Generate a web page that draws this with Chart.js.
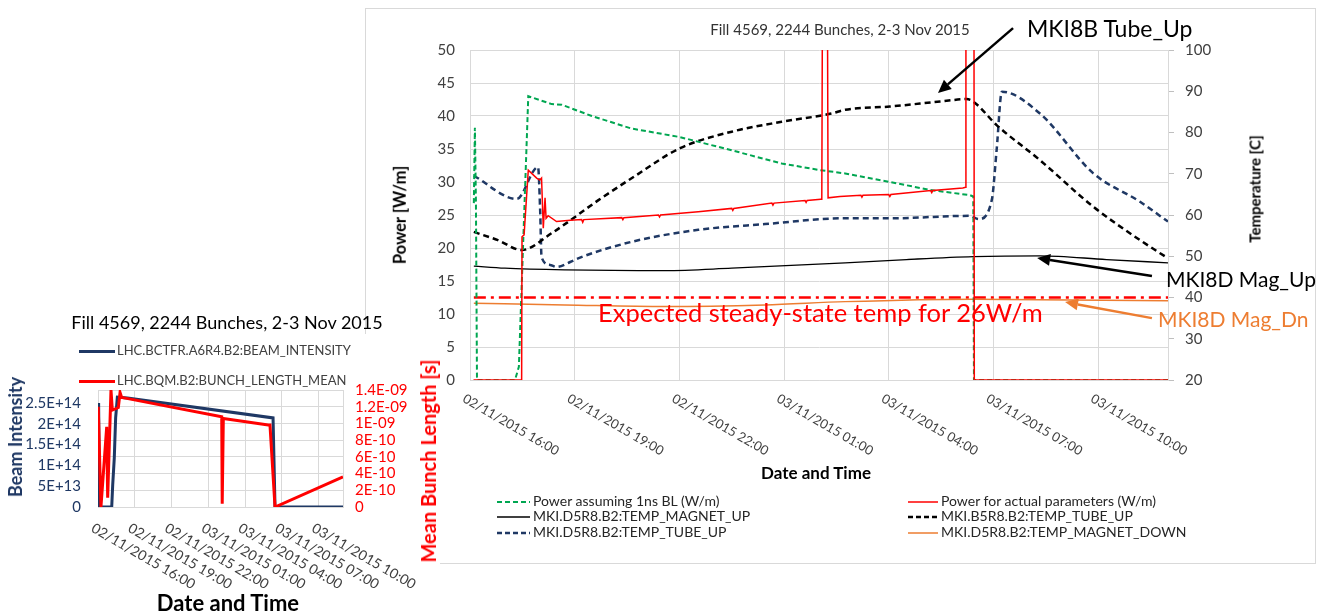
<!DOCTYPE html>
<html>
<head>
<meta charset="utf-8">
<title>Fill 4569, 2244 Bunches, 2-3 Nov 2015</title>
<script src="https://cdn.jsdelivr.net/npm/chart.js@4.4.1/dist/chart.umd.min.js"></script>
<style>
  html, body { margin: 0; padding: 0; background: #fff; }
  body { position: relative; width: 1319px; height: 615px; overflow: hidden; font-family: Lato, "Open Sans", sans-serif; color: #000; }
  #bigBox { position: absolute; left: 365px; top: 8px; width: 949px; height: 554px; border: 1px solid #d9d9d9; z-index: 1; }
  #bigChart { position: absolute; left: 0; top: 0; }
  #smallBg { position: absolute; left: 0; top: 334px; width: 440px; height: 281px; background: #fff; z-index: 2; }
  #smallChart { position: absolute; left: 0; top: 300px; z-index: 3; }
  .t, .tl, .rot, .leg { position: absolute; white-space: nowrap; line-height: 1; z-index: 4; }
  .t { transform: translate(-50%, -50%); }
  .tl { transform: translateY(-50%); }
  .rot { transform: translate(-50%, -50%) rotate(-90deg); font-weight: bold; }
  .leg { transform: translateY(-50%); font-size: 14px; color: #262626; }
  .leg svg { vertical-align: middle; margin-right: 3px; }
  .sleg { position: absolute; white-space: nowrap; line-height: 1; z-index: 4; transform: translateY(-50%); font-size: 13px; color: #404040; }
  .sleg svg { vertical-align: middle; margin-right: 2px; }
</style>
</head>
<body>
<div id="bigBox"><canvas id="bigChart" width="949" height="554"></canvas></div>
<div id="smallBg"></div>
<canvas id="smallChart" width="440" height="315"></canvas>

<!-- big chart texts -->
<div class="t" style="left:840px; top:29px; font-size:15px; color:#333;">Fill 4569, 2244 Bunches, 2-3 Nov 2015</div>
<div class="rot" style="left:400px; top:215px; font-size:16.5px;">Power [W/m]</div>
<div class="rot" style="left:1255px; top:189px; font-size:15px;">Temperature [C]</div>
<div class="t" style="left:816px; top:472px; font-size:17px; font-weight:bold;">Date and Time</div>
<div class="tl" style="left:1027px; top:28px; font-size:23px;">MKI8B Tube_Up</div>
<div class="tl" style="left:1166px; top:278px; font-size:21px;">MKI8D Mag_Up</div>
<div class="tl" style="left:1158px; top:318px; font-size:21px; color:#ed7d31;">MKI8D Mag_Dn</div>
<div class="tl" style="left:598px; top:313px; font-size:25.5px; color:#ff0000;">Expected steady-state temp for 26W/m</div>

<div class="leg" style="left:497px; top:501px;"><svg width="33" height="6"><line x1="0" y1="3" x2="33" y2="3" stroke="#00a651" stroke-width="2" stroke-dasharray="5,3"/></svg>Power assuming 1ns BL (W/m)</div>
<div class="leg" style="left:497px; top:516px;"><svg width="33" height="6"><line x1="0" y1="3" x2="33" y2="3" stroke="#000" stroke-width="1.5"/></svg>MKI.D5R8.B2:TEMP_MAGNET_UP</div>
<div class="leg" style="left:497px; top:532px;"><svg width="33" height="6"><line x1="0" y1="3" x2="33" y2="3" stroke="#1f3864" stroke-width="2.5" stroke-dasharray="5,3"/></svg>MKI.D5R8.B2:TEMP_TUBE_UP</div>
<div class="leg" style="left:908px; top:501px;"><svg width="30" height="6"><line x1="0" y1="3" x2="30" y2="3" stroke="#ff0000" stroke-width="1.5"/></svg>Power for actual parameters (W/m)</div>
<div class="leg" style="left:908px; top:516px;"><svg width="30" height="6"><line x1="0" y1="3" x2="30" y2="3" stroke="#000" stroke-width="2.5" stroke-dasharray="5,3"/></svg>MKI.B5R8.B2:TEMP_TUBE_UP</div>
<div class="leg" style="left:908px; top:532px;"><svg width="30" height="6"><line x1="0" y1="3" x2="30" y2="3" stroke="#ed7d31" stroke-width="1.5"/></svg>MKI.D5R8.B2:TEMP_MAGNET_DOWN</div>

<!-- small chart texts -->
<div class="t" style="left:227px; top:322px; font-size:18px;">Fill 4569, 2244 Bunches, 2-3 Nov 2015</div>
<div class="sleg" style="left:79px; top:350px;"><svg width="36" height="6"><line x1="0" y1="3" x2="36" y2="3" stroke="#1f3864" stroke-width="3"/></svg>LHC.BCTFR.A6R4.B2:BEAM_INTENSITY</div>
<div class="sleg" style="left:79px; top:380px;"><svg width="36" height="6"><line x1="0" y1="3" x2="36" y2="3" stroke="#ff0000" stroke-width="3"/></svg>LHC.BQM.B2:BUNCH_LENGTH_MEAN</div>
<div class="rot" style="left:15px; top:437px; font-size:18px; color:#1f3864;">Beam Intensity</div>
<div class="rot" style="left:428px; top:461px; font-size:20px; color:#ff0000;">Mean Bunch Length [s]</div>
<div class="t" style="left:228px; top:603px; font-size:22px; font-weight:bold;">Date and Time</div>

<script>
// x values are hours counted from 02/11/2015 00:00
var xTickHours = [16, 19, 22, 25, 28, 31, 34];
var xTickLabels = ["02/11/2015 16:00", "02/11/2015 19:00", "02/11/2015 22:00", "03/11/2015 01:00",
                   "03/11/2015 04:00", "03/11/2015 07:00", "03/11/2015 10:00"];

// big chart, power axis (W/m)
var greenHours = [16.11, 16.14, 16.17, 16.2, 17.29, 17.4, 17.67, 18.34, 18.63, 19.49, 20.63, 22.02, 23.5, 24.93, 26.03, 26.75, 28.03, 29.18, 30.33, 30.42, 30.44, 36];
var greenPower = [26.8, 38.2, 27.0, 0, 0, 2, 43.0, 41.8, 41.7, 40.0, 38.1, 36.8, 34.8, 32.8, 31.8, 31.3, 30.0, 28.8, 28.0, 27.8, 0, 0];

var redHours = [16.1, 17.48, 17.49, 17.55, 17.67, 17.91, 18.0, 18.05, 18.1, 18.15, 18.18, 18.24, 18.48, 18.87,
                19.2, 19.23, 19.26, 20.35, 20.38, 20.41, 21.4, 21.43, 21.46, 22.54, 23.5, 23.53, 23.56,
                24.65, 24.68, 24.71, 25.6, 25.63, 25.66, 26.05, 26.08, 26.1, 26.24, 26.26, 26.6,
                27.2, 27.23, 27.26, 28.0, 28.03, 28.06, 29.2, 29.23, 29.26, 30.12, 30.2, 30.21, 30.44, 30.45, 36];
var redPower = [0, 0, 21.7, 22, 31.8, 30.6, 30.3, 30.6, 23, 27.6, 24.5, 24.9, 24.0, 24.2,
                24.3, 23.9, 24.3, 24.6, 24.3, 24.6, 25.0, 24.7, 25.0, 25.5, 26.0, 25.7, 26.0,
                26.8, 26.5, 26.8, 27.2, 26.9, 27.2, 27.4, 27.4, 60, 60, 27.6, 27.8,
                28.0, 27.7, 28.0, 28.1, 27.8, 28.1, 28.7, 28.4, 28.7, 29.1, 29.2, 60, 60, 0, 0];

// big chart, temperature axis (C)
var tubeB5Hours = [16.11, 16.8, 17.48, 18.34, 19.68, 20.63, 22.02, 23.5, 24.93, 26.36, 26.75, 28.03, 29.47, 30.23, 30.42, 31.09, 32.33, 33.86, 35.2, 36];
var tubeB5Temp  = [55.9, 53.9, 51.5, 55.6, 63.6, 68.9, 76.2, 80.2, 82.6, 84.6, 85.5, 86.3, 87.5, 88.1, 87.5, 81.8, 73.3, 62.0, 53.9, 49.5];

var tubeD5Hours = [16.11, 17.34, 17.95, 18.01, 18.05, 18.29, 18.48, 18.87, 19.1, 20.63, 22.54, 24.45, 26.75, 28.03, 30.33, 30.57, 30.95, 31.09, 31.24, 32.33, 33.86, 35.2, 36];
var tubeD5Temp  = [69.5, 63.9, 71.6, 61.2, 49.8, 47.9, 47.4, 48.6, 49.5, 53.5, 56.4, 57.8, 59.2, 59.2, 59.8, 59.0, 63.6, 75.8, 89.9, 84.6, 70.1, 63.2, 58.4];

var magUpHours = [16.11, 17.0, 18.72, 21.59, 23.5, 26.75, 28.51, 30.42, 32.33, 34.24, 36];
var magUpTemp  = [47.6, 47.1, 46.7, 46.5, 47.1, 48.4, 49.2, 49.9, 50.1, 49.2, 48.4];

var magDnHours = [16.11, 18.72, 21.59, 24.45, 26.75, 30.42, 36];
var magDnTemp  = [38.6, 38.2, 37.8, 38.2, 39.0, 39.6, 39.2];

var expectedHours = [16.11, 36];
var expectedTemp  = [40, 40];

// annotation arrows (hours, temperature): tail -> tip
var arrowTails  = [[31.56, 105.3], [35.54, 45.2], [35.54, 35.0]];
var arrowTips   = [[29.41, 89.6], [32.25, 49.6], [33.05, 38.9]];
var arrowColors = ["#000000", "#000000", "#ed7d31"];

// small chart
var beamHours     = [16.0, 16.05, 16.12, 17.12, 17.2, 17.33, 17.44, 17.58, 18.4, 30.29, 30.45, 36];
var beamIntensity = [2.1e14, 2.5e14, 0, 0, 0.53e14, 1.18e14, 2.14e14, 2.64e14, 2.62e14, 2.14e14, 0, 0];
var bunchHours  = [16.02, 16.24, 16.71, 16.79, 17.06, 17.17, 17.66, 17.8, 17.93, 18.34, 26.1, 26.14, 26.23, 29.9, 30.04, 30.45, 36];
var bunchLength = [1.2e-9, 0, 0.96e-9, 0.11e-9, 1.4e-9, 1.16e-9, 1.19e-9, 1.37e-9, 1.31e-9, 1.3e-9, 1.08e-9, 0.04e-9, 1.06e-9, 0.98e-9, 0.98e-9, 0, 0.36e-9];
var beamTicks = [0, 5e13, 1e14, 1.5e14, 2e14, 2.5e14];
var beamTickLabels = ["0", "5E+13", "1E+14", "1.5E+14", "2E+14", "2.5E+14"];
var bunchTicks = [0, 2e-10, 4e-10, 6e-10, 8e-10, 1e-9, 1.2e-9, 1.4e-9];
var bunchTickLabels = ["0", "2E-10", "4E-10", "6E-10", "8E-10", "1E-09", "1.2E-09", "1.4E-09"];

Chart.defaults.font.family = "Lato, 'Open Sans', sans-serif";

function pts(xs, ys) {
  return xs.map(function(x, i) { return { x: x, y: ys[i] }; });
}

function lineSet(label, xs, ys, axis, color, width, dash, smooth) {
  return {
    label: label, data: pts(xs, ys), yAxisID: axis,
    borderColor: color, borderWidth: width, borderDash: dash || [],
    pointRadius: 0, tension: 0, fill: false,
    cubicInterpolationMode: smooth ? "monotone" : "default"
  };
}

// x tick labels turned clockwise, starting at the tick
function rotatedLabels(size, color, dx, dy) {
  return {
    id: "rotLabels",
    afterDraw: function(chart) {
      var ctx = chart.ctx, xs = chart.scales.x;
      ctx.save();
      ctx.font = size + "px Lato, 'Open Sans', sans-serif";
      ctx.fillStyle = color;
      ctx.textAlign = "left";
      ctx.textBaseline = "top";
      xTickHours.forEach(function(h, i) {
        ctx.save();
        ctx.translate(xs.getPixelForValue(h) + dx, xs.top + dy);
        ctx.rotate(30 * Math.PI / 180);
        ctx.fillText(xTickLabels[i], 0, 0);
        ctx.restore();
      });
      ctx.restore();
    }
  };
}

var arrowPlugin = {
  id: "arrows",
  afterDraw: function(chart) {
    var ctx = chart.ctx, xs = chart.scales.x, ys = chart.scales.yT;
    arrowTips.forEach(function(tip, i) {
      var x0 = xs.getPixelForValue(arrowTails[i][0]), y0 = ys.getPixelForValue(arrowTails[i][1]);
      var x1 = xs.getPixelForValue(tip[0]), y1 = ys.getPixelForValue(tip[1]);
      var a = Math.atan2(y1 - y0, x1 - x0), head = 13;
      ctx.save();
      ctx.strokeStyle = arrowColors[i];
      ctx.fillStyle = arrowColors[i];
      ctx.lineWidth = 2.5;
      ctx.beginPath();
      ctx.moveTo(x0, y0);
      ctx.lineTo(x1 - head * Math.cos(a), y1 - head * Math.sin(a));
      ctx.stroke();
      ctx.beginPath();
      ctx.moveTo(x1, y1);
      ctx.lineTo(x1 - head * Math.cos(a) + 6 * Math.sin(a), y1 - head * Math.sin(a) - 6 * Math.cos(a));
      ctx.lineTo(x1 - head * Math.cos(a) - 6 * Math.sin(a), y1 - head * Math.sin(a) + 6 * Math.cos(a));
      ctx.closePath();
      ctx.fill();
      ctx.restore();
    });
  }
};

function setTicks(list) {
  return function(scale) { scale.ticks = list.map(function(v) { return { value: v }; }); };
}

function renderBigChart() {
  new Chart(document.getElementById("bigChart"), {
    type: "line",
    data: {
      datasets: [
        lineSet("Power for actual parameters (W/m)", redHours, redPower, "yP", "#ff0000", 1.5),
        lineSet("Power assuming 1ns BL (W/m)", greenHours, greenPower, "yP", "#00a651", 2, [5, 3]),
        lineSet("MKI.B5R8.B2:TEMP_TUBE_UP", tubeB5Hours, tubeB5Temp, "yT", "#000000", 2.5, [6, 4], true),
        lineSet("MKI.D5R8.B2:TEMP_TUBE_UP", tubeD5Hours, tubeD5Temp, "yT", "#1f3864", 2.5, [6, 4], true),
        lineSet("MKI.D5R8.B2:TEMP_MAGNET_UP", magUpHours, magUpTemp, "yT", "#000000", 1.3, null, true),
        lineSet("MKI.D5R8.B2:TEMP_MAGNET_DOWN", magDnHours, magDnTemp, "yT", "#ed7d31", 1.5, null, true),
        lineSet("Expected steady-state temp", expectedHours, expectedTemp, "yT", "#ff0000", 2.5, [12, 5, 3, 5])
      ]
    },
    options: {
      responsive: false,
      animation: false,
      layout: { padding: { top: 41, left: 0, right: 0, bottom: 0 } },
      plugins: { legend: { display: false }, tooltip: { enabled: false } },
      scales: {
        x: {
          type: "linear", min: 16, max: 36,
          afterBuildTicks: setTicks(xTickHours),
          afterFit: function(s) { s.height = 183; },
          ticks: { display: false },
          grid: { color: "#d9d9d9", drawTicks: false },
          border: { color: "#d9d9d9" }
        },
        yP: {
          position: "left", min: 0, max: 50,
          afterFit: function(s) { s.width = 104; },
          ticks: { stepSize: 5, autoSkip: false, padding: 15, color: "#404040", font: { size: 15 } },
          grid: { color: "#d9d9d9", drawTicks: false },
          border: { color: "#d9d9d9" }
        },
        yT: {
          position: "right", min: 20, max: 100,
          afterFit: function(s) { s.width = 147; },
          ticks: { stepSize: 10, autoSkip: false, padding: 11, color: "#404040", font: { size: 15 } },
          grid: { drawOnChartArea: false, drawTicks: true, tickLength: 6, color: "#bfbfbf" },
          border: { color: "#d9d9d9" }
        }
      }
    },
    plugins: [rotatedLabels(13, "#404040", -3, 12), arrowPlugin]
  });
}

function renderSmallChart() {
  new Chart(document.getElementById("smallChart"), {
    type: "line",
    data: {
      datasets: [
        lineSet("LHC.BQM.B2:BUNCH_LENGTH_MEAN", bunchHours, bunchLength, "yL", "#ff0000", 3),
        lineSet("LHC.BCTFR.A6R4.B2:BEAM_INTENSITY", beamHours, beamIntensity, "yB", "#1f3864", 3)
      ]
    },
    options: {
      responsive: false,
      animation: false,
      layout: { padding: { top: 90, left: 0, right: 0, bottom: 0 } },
      plugins: { legend: { display: false }, tooltip: { enabled: false } },
      scales: {
        x: {
          type: "linear", min: 16, max: 36,
          afterBuildTicks: setTicks(xTickHours),
          afterFit: function(s) { s.height = 108; },
          ticks: { display: false },
          grid: { color: "#d9d9d9", drawTicks: false },
          border: { color: "#d9d9d9" }
        },
        yB: {
          position: "left", min: 0, max: 2.81e14,
          afterBuildTicks: setTicks(beamTicks),
          afterFit: function(s) { s.width = 98; },
          ticks: { autoSkip: false, padding: 17, color: "#1f3864", font: { size: 15 },
                   callback: function(v, i) { return beamTickLabels[i]; } },
          grid: { drawOnChartArea: false, drawTicks: false },
          border: { color: "#d9d9d9" }
        },
        yL: {
          position: "right", min: 0, max: 1.4e-9,
          afterBuildTicks: setTicks(bunchTicks),
          afterFit: function(s) { s.width = 97; },
          ticks: { autoSkip: false, padding: 12, color: "#ff0000", font: { size: 15 },
                   callback: function(v, i) { return bunchTickLabels[i]; } },
          grid: { color: "#d9d9d9", drawTicks: false },
          border: { color: "#d9d9d9" }
        }
      }
    },
    plugins: [rotatedLabels(14, "#404040", -2, 14)]
  });
}

document.addEventListener("DOMContentLoaded", function() {
  renderBigChart();
  renderSmallChart();
});
</script>
</body>
</html>
